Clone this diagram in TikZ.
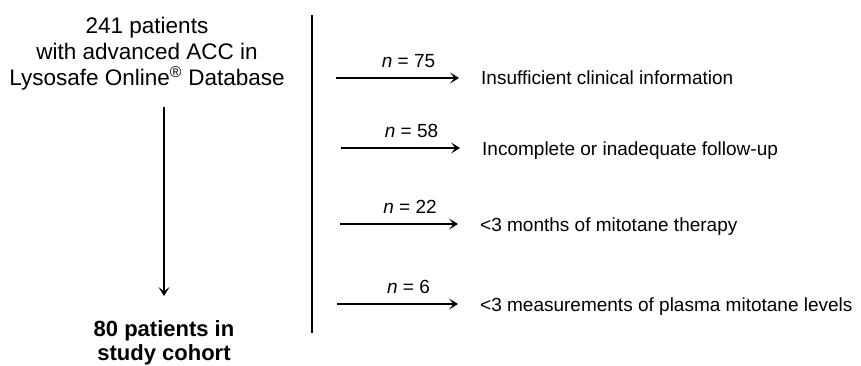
\documentclass[tikz,border=0pt]{standalone}
\usepackage{fontspec}
\setmainfont{Liberation Sans}
\usetikzlibrary{positioning,arrows.meta}

\begin{document}
\begin{tikzpicture}[x=1pt, y=1pt,
  box/.style={align=center, inner sep=0pt,
              font=\fontsize{22.5}{26}\selectfont},
  reason/.style={anchor=base west, inner sep=0pt,
                 font=\fontsize{19}{23}\selectfont},
  cnt/.style={midway, above=10pt, inner sep=0pt,
              font=\fontsize{19}{23}\selectfont},
  arr/.style={-{Stealth[length=9pt,width=11pt,inset=4.5pt]}, line width=1.6pt}]
  \useasboundingbox (0,0) rectangle (861,365);
  \node[box, anchor=north] (src) at (147,348)
    {241 patients\\with advanced ACC in\\
     Lysosafe Online\textsuperscript{\textregistered} Database};
  \node[box, anchor=north, font=\fontsize{22}{24}\selectfont\bfseries]
    (dst) at (164,45) {80 patients in\\study cohort};
  \draw[arr, shorten <=17pt, shorten >=24pt] (src.south -| dst.north) -- (dst.north);
  % separator
  \draw[line width=1.6pt] (312,350) -- (312,32);
  % excluded patients
  \coordinate (s1) at (336,287);
  \coordinate (s2) at (341,217);
  \coordinate (s3) at (340,141);
  \coordinate (s4) at (337,61);
  \node[reason] (r1) at (481,280) {Insufficient clinical information};
  \node[reason] (r2) at (482,210) {Incomplete or inadequate follow-up};
  \node[reason] (r3) at (480,134) {<3 months of mitotane therapy};
  \node[reason] (r4) at (480,54) {<3 measurements of plasma mitotane levels};
  \foreach \s/\r/\n in {s1/r1/75,s2/r2/58,s3/r3/22,s4/r4/6}
    {\draw[arr, shorten >=22pt] (\s) -- (\s -| \r.west)
       node[cnt] {\textit{n} = \n};}
\end{tikzpicture}
\end{document}
